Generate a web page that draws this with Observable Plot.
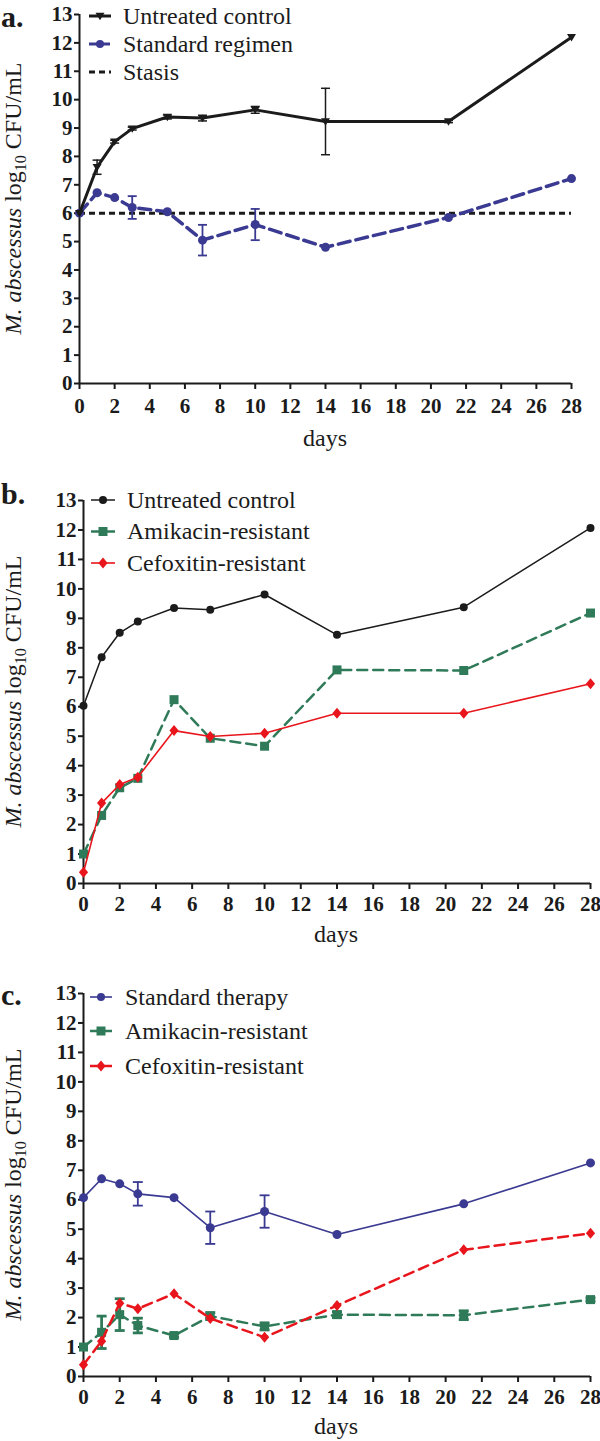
<!DOCTYPE html>
<html><head><meta charset="utf-8">
<script src="https://cdn.jsdelivr.net/npm/d3@7"></script>
<script src="https://cdn.jsdelivr.net/npm/@observablehq/plot@0.6"></script>
<style>
body{margin:0;background:#fff;}
#root{position:relative;width:600px;height:1441px;overflow:hidden;}
.panel{position:relative;width:600px;}
.panel svg{display:block;}
.panel svg.overlay{position:absolute;left:0;top:0;pointer-events:none;overflow:visible;}
</style></head><body><div id="root"></div>
<script>
// ---------- data ----------
const days = [0, 1, 2, 3, 5, 7, 10, 14, 21, 28];
const yTicks = [0,1,2,3,4,5,6,7,8,9,10,11,12,13];
const xTicks = [0,2,4,6,8,10,12,14,16,18,20,22,24,26,28];

// panel a
const aUntreated    = [6.0, 7.62, 8.52, 8.98, 9.39, 9.35, 9.64, 9.23, 9.23, 12.2];
const aUntreatedErr = [0, 0.25, 0.05, 0.05, 0.07, 0.1, 0.12, 1.17, 0.04, 0];
const aStandard     = [6.0, 6.72, 6.55, 6.2, 6.05, 5.05, 5.6, 4.8, 5.85, 7.22];
const aStandardErr  = [0, 0, 0, 0.4, 0, 0.54, 0.55, 0, 0, 0];
const aStasis = 6;
const aLabels = ["Untreated control", "Standard regimen", "Stasis"];

// panel b
const bUntreated = [6.03, 7.68, 8.51, 8.89, 9.35, 9.29, 9.81, 8.44, 9.38, 12.07];
const bAmikacin  = [1.0, 2.31, 3.25, 3.57, 6.24, 4.93, 4.66, 7.25, 7.23, 9.18];
const bCefoxitin = [0.38, 2.73, 3.36, 3.61, 5.19, 4.99, 5.10, 5.78, 5.78, 6.78];
const bLabels = ["Untreated control", "Amikacin-resistant", "Cefoxitin-resistant"];

// panel c
const cStandard     = [6.07, 6.71, 6.54, 6.2, 6.07, 5.05, 5.6, 4.82, 5.86, 7.25];
const cStandardErr  = [0, 0, 0, 0.4, 0, 0.55, 0.55, 0, 0, 0];
const cAmikacin     = [1.0, 1.5, 2.1, 1.73, 1.39, 2.05, 1.7, 2.1, 2.08, 2.61];
const cAmikacinErr  = [0, 0.55, 0.54, 0.25, 0.06, 0.12, 0.12, 0.1, 0.15, 0.06];
const cCefoxitin    = [0.4, 1.2, 2.49, 2.3, 2.81, 1.97, 1.33, 2.41, 4.3, 4.86];
const cLabels = ["Standard therapy", "Amikacin-resistant", "Cefoxitin-resistant"];

// ---------- styles ----------
const BLACK = "#1b1b1b", NAVY = "#3a3a92", GREEN = "#2f7a58", RED = "#e8161c";
const SERIF = "'Liberation Serif', 'Times New Roman', serif";

const rows = (vals, errs) => days.map((d, i) => ({day: d, v: vals[i], e: errs ? errs[i] : 0}));

const capSym = (w) => ({draw(ctx){ ctx.moveTo(-w, 0); ctx.lineTo(w, 0); }});
const downTri = {draw(ctx){ ctx.moveTo(-4.5, -3.2); ctx.lineTo(4.5, -3.2); ctx.lineTo(0, 4.2); ctx.closePath(); }};
const diamondSym = {draw(ctx){ ctx.moveTo(0, -5.5); ctx.lineTo(4.6, 0); ctx.lineTo(0, 5.5); ctx.lineTo(-4.6, 0); ctx.closePath(); }};
const squareSym = {draw(ctx){ ctx.rect(-4.5, -4.5, 9, 9); }};
const circleSym = (r) => ({draw(ctx){ ctx.moveTo(r, 0); ctx.arc(0, 0, r, 0, 2 * Math.PI); }});

function errMarks(data, color, sw, capW) {
  const d = data.filter(r => r.e > 0);
  return [
    Plot.ruleX(d, {x: "day", y1: r => r.v - r.e, y2: r => r.v + r.e, stroke: color, strokeWidth: sw}),
    Plot.dot(d, {x: "day", y: r => r.v + r.e, symbol: capSym(capW), stroke: color, strokeWidth: sw, fill: "none"}),
    Plot.dot(d, {x: "day", y: r => r.v - r.e, symbol: capSym(capW), stroke: color, strokeWidth: sw, fill: "none"})
  ];
}

function seriesMarks(data, color, sw, dash, sym) {
  return [
    Plot.line(data, {x: "day", y: "v", stroke: color, strokeWidth: sw, strokeDasharray: dash, strokeLinejoin: "miter"}),
    Plot.dot(data, {x: "day", y: "v", symbol: sym, fill: color, stroke: "none"})
  ];
}

function axes(tp) {
  return [
    Plot.axisY(yTicks, {tickSize: 5, tickPadding: 2, strokeWidth: 2, stroke: BLACK, fill: BLACK, label: null}),
    Plot.axisX(xTicks, {tickSize: 6, tickPadding: tp, strokeWidth: 2, stroke: BLACK, fill: BLACK, label: null}),
    Plot.ruleX([0], {y1: 0, y2: 13, stroke: BLACK, strokeWidth: 2}),
    Plot.ruleY([0], {x1: 0, x2: 28, stroke: BLACK, strokeWidth: 2})
  ];
}

function makePanel(cfg) {
  const div = document.createElement("div");
  div.className = "panel";
  div.style.height = cfg.height + "px";
  const svg = Plot.plot({
    width: 600, height: cfg.height,
    marginTop: cfg.m[0], marginRight: cfg.m[1], marginBottom: cfg.m[2], marginLeft: cfg.m[3],
    x: {domain: [0, 28]}, y: {domain: [0, 13]},
    style: {fontFamily: SERIF, fontSize: "21px", fontWeight: "bold", color: BLACK, background: "transparent", overflow: "visible"},
    marks: [...axes(cfg.tp), ...cfg.marks]
  });
  div.appendChild(svg);

  // overlay for panel letter, axis titles and legend
  const ov = d3.select(div).append("svg").attr("class", "overlay")
    .attr("width", 600).attr("height", cfg.height)
    .style("font-family", SERIF).style("fill", BLACK);
  ov.append("text").attr("x", 1).attr("y", cfg.letterY)
    .style("font-size", "30px").style("font-weight", "bold").text(cfg.letter);
  const t = ov.append("text")
    .attr("transform", `translate(21,${cfg.titleCY}) rotate(-90)`)
    .attr("text-anchor", "middle").style("font-size", "24px");
  t.append("tspan").style("font-style", "italic").text("M. abscessus");
  t.append("tspan").text(" log");
  t.append("tspan").attr("dy", 5).style("font-size", "16px").text("10");
  t.append("tspan").attr("dy", -5).text(" CFU/mL");
  ov.append("text").attr("x", cfg.daysX).attr("y", cfg.daysY)
    .attr("text-anchor", "middle").style("font-size", "24px").text("days");

  const L = cfg.legend;
  L.items.forEach((it, i) => {
    const y = L.rows[i];
    ov.append("line").attr("x1", L.x1).attr("x2", L.x2).attr("y1", y).attr("y2", y)
      .attr("stroke", it.color).attr("stroke-width", it.sw)
      .attr("stroke-dasharray", it.dash || null);
    if (it.sym) {
      ov.append("path").attr("transform", `translate(${(L.x1 + L.x2) / 2},${y})`)
        .attr("d", d3.symbol().type(it.sym)()).attr("fill", it.color);
    }
    ov.append("text").attr("x", L.tx).attr("y", y).attr("dy", "0.33em")
      .style("font-size", "24px").text(it.label);
  });
  return div;
}

const root = document.getElementById("root");

// panel a
const aU = rows(aUntreated, aUntreatedErr), aS = rows(aStandard, aStandardErr);
root.appendChild(makePanel({
  height: 460, m: [14, 29, 77, 79], tp: 9, letter: "a.", letterY: 27, titleCY: 198.5,
  daysX: 325, daysY: 446,
  marks: [
    Plot.ruleY([aStasis], {x1: 0, x2: 28, stroke: BLACK, strokeWidth: 3, strokeDasharray: "6,4"}),
    ...errMarks(aS, NAVY, 1.8, 4.5),
    ...seriesMarks(aS, NAVY, 3.5, "12,6", circleSym(4.5)),
    ...errMarks(aU, BLACK, 1.5, 4.5),
    ...seriesMarks(aU, BLACK, 3, null, downTri)
  ],
  legend: {x1: 89, x2: 111, tx: 123, rows: [16, 44, 72], items: [
    {label: aLabels[0], color: BLACK, sw: 3, sym: downTri},
    {label: aLabels[1], color: NAVY, sw: 3, dash: "8,5", sym: circleSym(4)},
    {label: aLabels[2], color: BLACK, sw: 3, dash: "6,4"}
  ]}
}));

// panel b
const bU = rows(bUntreated), bA = rows(bAmikacin), bC = rows(bCefoxitin);
root.appendChild(makePanel({
  height: 490, m: [40, 10, 67, 83], tp: 7, letter: "b.", letterY: 44, titleCY: 231.5,
  daysX: 336, daysY: 482,
  marks: [
    ...seriesMarks(bU, BLACK, 1.5, null, circleSym(4)),
    ...seriesMarks(bA, GREEN, 2.5, "10,6", squareSym),
    ...seriesMarks(bC, RED, 1.6, null, diamondSym)
  ],
  legend: {x1: 91, x2: 115, tx: 127, rows: [40, 71.5, 103], items: [
    {label: bLabels[0], color: BLACK, sw: 1.5, sym: circleSym(4)},
    {label: bLabels[1], color: GREEN, sw: 2.5, sym: squareSym},
    {label: bLabels[2], color: RED, sw: 1.6, sym: diamondSym}
  ]}
}));

// panel c
const cS = rows(cStandard, cStandardErr), cA = rows(cAmikacin, cAmikacinErr), cC = rows(cCefoxitin);
root.appendChild(makePanel({
  height: 491, m: [43, 10, 65, 83], tp: 7, letter: "c.", letterY: 55, titleCY: 234.5,
  daysX: 336, daysY: 484,
  marks: [
    ...errMarks(cS, NAVY, 1.8, 5),
    ...seriesMarks(cS, NAVY, 1.6, null, circleSym(4.5)),
    ...errMarks(cA, GREEN, 2.8, 5),
    ...seriesMarks(cA, GREEN, 2.5, "10,6", squareSym),
    ...seriesMarks(cC, RED, 2.5, "10,6", diamondSym)
  ],
  legend: {x1: 90, x2: 112, tx: 125, rows: [47, 81, 116], items: [
    {label: cLabels[0], color: NAVY, sw: 1.6, sym: circleSym(4)},
    {label: cLabels[1], color: GREEN, sw: 2.5, sym: squareSym},
    {label: cLabels[2], color: RED, sw: 2.5, sym: diamondSym}
  ]}
}));
</script></body></html>
